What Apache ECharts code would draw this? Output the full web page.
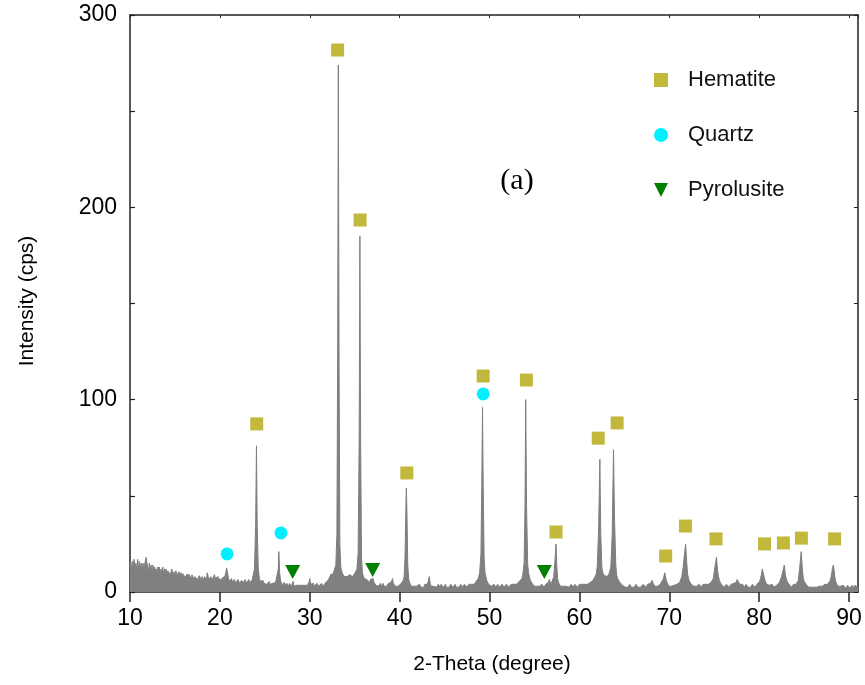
<!DOCTYPE html>
<html>
<head>
<meta charset="utf-8">
<script src="https://cdn.jsdelivr.net/npm/echarts@6/dist/echarts.min.js"></script>
<style>html,body{margin:0;padding:0;background:#fff}#c{width:865px;height:685px}</style>
</head>
<body>
<div id="c"></div>
<script>
// XRD pattern, [2-theta, intensity]
const pattern1 = [
[10.0,13],[10.05,16],[10.1,15],[10.15,11],[10.2,12],[10.25,16],[10.3,16],[10.35,12],[10.4,13],[10.45,17],
[10.5,15],[10.55,11],[10.6,12],[10.65,15],[10.7,16],[10.75,12],[10.8,14],[10.85,17],[10.9,15],[10.95,11],
[11.0,12],[11.05,16],[11.1,15],[11.15,12],[11.2,13],[11.25,15],[11.3,16],[11.35,11],[11.4,12],[11.45,15],
[11.5,14],[11.55,11],[11.6,13],[11.65,15],[11.7,16],[11.75,14],[11.8,18],[11.85,19],[11.9,17],[11.95,13],
[12.0,14],[12.05,11],[12.1,12],[12.15,15],[12.2,14],[12.25,10],[12.3,11],[12.35,14],[12.4,13],[12.45,10],
[12.5,12],[12.55,14],[12.6,14],[12.65,10],[12.7,11],[12.75,13],[12.8,13],[12.85,10],[12.9,12],[12.95,13],
[13.0,11],[13.05,9],[13.1,13],[13.15,11],[13.2,11],[13.25,13],[13.3,12],[13.35,9],[13.4,10],[13.45,12],
[13.5,12],[13.55,10],[13.6,11],[13.65,13],[13.7,12],[13.75,9],[13.8,10],[13.85,12],[13.9,11],[13.95,9],
[14.0,12],[14.1,10],[14.15,8.5],[14.2,11],[14.3,10],[14.35,12],[14.4,11],[14.5,9],[14.6,10],[14.65,12],
[14.7,11],[14.8,8.5],[14.9,10.5],[15.0,10],[15.05,8],[15.1,11],[15.2,9],[15.3,10],[15.35,8],[15.4,9],
[15.5,10.5],[15.6,8.5],[15.7,10],[15.8,8],[15.9,9.5],[16.0,10],[16.1,7.5],[16.2,8],[16.3,9],[16.4,8],
[16.5,10],[16.6,9],[16.7,7],[16.8,8],[16.9,9],[17.0,8],[17.1,6.5],[17.2,8],[17.3,9],[17.4,7.5],
[17.5,6.5],[17.6,7],[17.7,8.5],[17.8,9],[17.9,6.5],[18.0,8],[18.1,6],[18.2,7],[18.3,8],[18.4,7],
[18.5,6],[18.6,10],[18.7,8],[18.8,6.5],[18.9,7.5],[19.0,8],[19.1,6],[19.2,7],[19.3,6],[19.4,9],
[19.5,7],[19.6,6],[19.7,7.5],[19.8,8],[19.9,5.5],[20.0,7],[20.1,5.5],[20.2,6],[20.3,7.5],[20.4,6.5],
[20.55,8],[20.65,10],[20.75,12.5],[20.85,10],[20.95,7.5],[21.05,5.5],[21.15,6.5],[21.3,7],[21.4,5],[21.5,5],
[21.6,6.5],[21.7,6],[21.8,4.5],[21.9,5],[22.0,6.5],[22.1,6],[22.2,4.5],[22.3,5],[22.4,6],[22.5,7],
[22.6,5],[22.7,5],[22.8,6.5],[22.9,6],[23.0,4.5],[23.1,5],[23.2,6.5],[23.3,6],[23.4,5],[23.5,6],
[23.6,6.5],[23.7,7],[23.85,12],[23.98,35],[24.07,76],[24.15,35],[24.27,12],[24.4,7],[24.5,5.5],[24.6,5],
[24.7,6],[24.8,6],[24.9,4.5],[25.0,5],[25.1,5.5],[25.2,4],[25.3,3.5],[25.4,5],[25.5,5.5],[25.6,4],
[25.7,3.5],[25.8,5],[25.9,4.5],[26.0,4],[26.1,3.5],[26.2,5],[26.3,5],[26.4,6],[26.5,12],[26.56,21],
[26.65,10],[26.75,6],[26.85,5],[26.95,3.5],[27.05,4],[27.15,5],[27.25,4],[27.35,3],[27.45,4.5],[27.55,3.5],
[27.65,3],[27.75,4.5],[27.85,3.5],[27.95,3],[28.05,4],[28.15,5.5],[28.25,3],[28.35,4],[28.45,3],[28.55,3.5],
[28.65,4.5],[28.75,3],[28.85,3.5],[28.95,4.5],[29.05,3],[29.15,3.5],[29.25,4],[29.35,2.5],[29.45,3.5],[29.55,4.5],
[29.65,3],[29.75,3.5],[29.85,3],[29.95,5.5]
];
const pattern2 = [
[30.0,7],[30.1,4],[30.2,3],[30.3,3.5],[30.4,4.5],[30.5,3],[30.6,3.5],[30.7,3],[30.8,4.5],[30.9,3.5],
[31.0,3],[31.1,4],[31.2,3],[31.3,4.5],[31.4,3.5],[31.5,3],[31.6,4],[31.7,4.5],[31.8,4],[31.9,5.5],
[32.0,6],[32.1,7],[32.2,7.5],[32.3,9],[32.4,8.5],[32.5,10],[32.6,9.5],[32.7,11],[32.8,11.5],[32.9,14],
[33.02,30],[33.1,120],[33.18,274],[33.26,120],[33.35,25],[33.45,13],[33.55,11],[33.65,9.5],[33.75,10],[33.85,8],
[33.95,8.5],[34.05,7],[34.15,8],[34.25,7.5],[34.35,8.5],[34.45,9],[34.55,10],[34.65,9.5],[34.75,8],[34.85,8.5],
[34.95,9],[35.05,10],[35.15,10.5],[35.25,12],[35.38,20],[35.5,80],[35.58,185],[35.66,80],[35.76,18],[35.86,10],
[35.95,8.5],[36.05,7],[36.15,7.5],[36.25,6],[36.35,6.5],[36.45,7],[36.55,5.5],[36.65,5],[36.75,6.5],[36.85,5.5],
[36.95,6.5],[37.05,7],[37.15,5],[37.25,4.5],[37.35,3.5],[37.45,3],[37.55,4],[37.65,3],[37.75,3.5],[37.85,4.5],
[37.95,3],[38.05,3.5],[38.15,4.5],[38.25,3],[38.35,3.5],[38.45,4],[38.55,3],[38.65,3.5],[38.75,4.5],[38.85,3.5],
[38.95,4],[39.05,5],[39.15,6],[39.22,7],[39.3,4.5],[39.4,3.5],[39.5,3],[39.6,4],[39.7,3.5],[39.8,3],
[39.9,4],[40.0,3.5],[40.1,4],[40.2,4.5],[40.3,5],[40.4,6],[40.5,8],[40.6,18],[40.7,45],[40.75,54],
[40.82,40],[40.9,15],[41.0,7],[41.1,5],[41.2,4],[41.3,3],[41.4,3.5],[41.5,4],[41.6,3],[41.7,2.5],
[41.8,3.5],[41.9,3],[42.0,2.5],[42.1,3.5],[42.2,4],[42.3,3],[42.4,2.5],[42.5,3.5],[42.6,3],[42.7,2.5],
[42.8,4],[42.9,3],[43.0,3],[43.1,4],[43.2,5],[43.3,8],[43.4,4.5],[43.5,3],[43.6,3.5],[43.7,2.5],
[43.8,3],[43.9,4],[44.0,3.5],[44.1,2.5],[44.2,3],[44.3,4],[44.4,3],[44.5,2.5],[44.6,4],[44.7,3.5],
[44.8,3],[44.9,2.5],[45.0,3.5],[45.1,4],[45.2,2.5],[45.3,3],[45.4,3.5],[45.5,2.5],[45.6,3],[45.7,4],
[45.8,3],[45.9,2.5],[46.0,3.5],[46.1,3],[46.2,4],[46.3,2.5],[46.4,3],[46.5,3.5],[46.6,2.5],[46.7,3],
[46.8,4],[46.9,3],[47.0,2.5],[47.1,3.5],[47.2,4],[47.3,3],[47.4,3.5],[47.5,2.5],[47.6,3],[47.7,4],
[47.8,3.5],[47.9,3],[48.0,4],[48.1,3.5],[48.2,4.5],[48.3,4],[48.4,5],[48.5,5.5],[48.6,6],[48.75,7],
[48.9,10],[49.05,20],[49.15,60],[49.22,96],[49.3,55],[49.4,18],[49.5,10],[49.6,8],[49.7,6],[49.8,5],
[49.9,4]
];
const pattern3 = [
[50.0,3.5],[50.1,4],[50.2,3],[50.3,2.5],[50.4,3.5],[50.5,4],[50.6,3],[50.7,2.5],[50.8,3.5],[50.9,4],
[51.0,3],[51.1,2.5],[51.2,3.5],[51.3,3],[51.4,4],[51.5,3.5],[51.6,2.5],[51.7,3],[51.8,3.5],[51.9,4],
[52.0,3],[52.1,2.5],[52.2,3.5],[52.3,3],[52.4,4],[52.5,3],[52.6,3.5],[52.7,4],[52.8,3.5],[52.9,4.5],
[53.0,4],[53.1,5],[53.2,4.5],[53.3,5.5],[53.4,5],[53.5,6],[53.6,7],[53.7,9],[53.85,15],[53.95,45],
[54.03,100],[54.12,45],[54.25,14],[54.35,10],[54.45,7.5],[54.55,6],[54.65,5.5],[54.75,4.5],[54.85,4],[54.95,3],
[55.05,3.5],[55.15,4],[55.25,3],[55.35,2.5],[55.45,3.5],[55.55,3],[55.65,2.5],[55.75,3.5],[55.85,4],[55.95,3],
[56.05,2.5],[56.15,3.5],[56.25,4],[56.35,3],[56.45,4],[56.55,5],[56.65,6.5],[56.75,5.5],[56.85,4],[56.95,3.5],
[57.05,4.5],[57.15,8],[57.28,16],[57.4,25],[57.48,14],[57.58,7],[57.68,5],[57.8,4],[57.9,3],[58.0,3.5],
[58.1,4],[58.2,3],[58.3,2.5],[58.4,3.5],[58.5,3],[58.6,4],[58.7,3],[58.8,2.5],[58.9,3.5],[59.0,3],
[59.1,4],[59.2,3],[59.3,2.5],[59.4,3.5],[59.5,4],[59.6,3],[59.7,3.5],[59.8,2.5],[59.9,3.5],[60.0,4],
[60.1,3],[60.2,3.5],[60.3,4],[60.4,3.5],[60.5,4.5],[60.6,4],[60.7,3.5],[60.8,4.5],[60.9,4],[61.0,5],
[61.1,4.5],[61.2,5],[61.35,5.5],[61.5,6],[61.65,7],[61.8,8.5],[61.9,10],[62.0,14],[62.15,35],[62.28,69],
[62.38,30],[62.5,13],[62.6,10],[62.7,9],[62.8,8.5],[62.9,8],[63.0,9],[63.1,8],[63.2,8.5],[63.3,9.5],
[63.4,11],[63.5,13],[63.65,30],[63.8,74],[63.9,40],[64.05,14],[64.15,9],[64.25,7],[64.35,6],[64.5,5],
[64.6,4.5],[64.7,4],[64.8,3.5],[64.9,4],[65.0,3],[65.1,2.5],[65.2,3.5],[65.3,3],[65.4,2.5],[65.5,3.5],
[65.6,4],[65.7,3],[65.8,2.5],[65.9,3],[66.0,3.5],[66.1,2.5],[66.2,3],[66.3,4],[66.4,3],[66.5,2.5],
[66.6,3.5],[66.7,3],[66.8,2.5],[66.9,3.5],[67.0,3],[67.1,4],[67.2,3],[67.3,3.5],[67.4,2.5],[67.5,3.5],
[67.6,4],[67.7,3.5],[67.8,4],[67.9,4.5],[68.0,5],[68.1,6],[68.2,4.5],[68.3,3.5],[68.4,3],[68.5,3.5],
[68.6,4],[68.7,3],[68.8,3.5],[68.9,3],[69.0,4],[69.1,4.5],[69.2,5],[69.35,7],[69.5,10],[69.65,6.5],
[69.75,5],[69.85,4],[69.95,3]
];
const pattern4 = [
[70.05,3.5],[70.15,2.5],[70.25,3],[70.35,4],[70.45,3],[70.55,3.5],[70.65,4],[70.75,3],[70.85,4],[70.95,4.5],
[71.05,4],[71.15,5],[71.25,5.5],[71.4,8],[71.55,13],[71.7,20],[71.82,25],[71.95,15],[72.05,9],[72.15,7],
[72.25,5.5],[72.35,5],[72.45,4],[72.55,3.5],[72.65,4],[72.75,3],[72.85,2.5],[72.95,3.5],[73.05,3],[73.15,2.5],
[73.25,3.5],[73.35,4],[73.45,3],[73.55,2.5],[73.65,3],[73.75,4],[73.85,3],[73.95,3.5],[74.05,4],[74.15,3],
[74.25,3.5],[74.35,4],[74.45,4.5],[74.55,4],[74.65,5],[74.75,5.5],[74.9,7],[75.08,13],[75.25,18],[75.38,11],
[75.48,8],[75.58,6],[75.68,5],[75.78,4],[75.88,3.5],[75.98,3],[76.08,2.5],[76.18,3.5],[76.28,3],[76.38,4],
[76.48,3],[76.58,2.5],[76.68,3.5],[76.78,3],[76.88,4],[76.98,3.5],[77.08,4],[77.18,4.5],[77.3,4],[77.45,5],
[77.55,6.5],[77.65,7.5],[77.75,6],[77.85,4],[77.95,3.5],[78.05,3],[78.15,4],[78.25,3],[78.35,2.5],[78.45,3.5],
[78.55,4],[78.65,3],[78.75,2.5],[78.85,3.5],[78.95,3],[79.05,2.5],[79.15,3.5],[79.25,4],[79.35,3],[79.45,3.5],
[79.55,2.5],[79.65,3],[79.75,4],[79.85,4.5],[79.95,5],[80.05,5.5],[80.15,7],[80.25,9],[80.35,12],[80.45,10],
[80.55,8],[80.65,6],[80.75,5],[80.85,4],[80.95,3.5],[81.05,3],[81.15,3.5],[81.25,2.5],[81.35,3],[81.45,4],
[81.55,3],[81.65,2.5],[81.75,3.5],[81.85,3],[81.95,3.5],[82.05,4],[82.15,4.5],[82.25,5],[82.35,6],[82.5,8],
[82.65,11],[82.8,14],[82.92,9],[83.02,7],[83.12,5.5],[83.22,4.5],[83.32,4],[83.42,3],[83.52,3.5],[83.62,2.5],
[83.72,3],[83.82,4],[83.92,3],[84.02,3.5],[84.12,4],[84.22,4.5],[84.35,6],[84.5,12],[84.68,21],[84.82,11],
[84.92,7],[85.02,5.5],[85.12,4.5],[85.22,4],[85.32,3],[85.42,3.5],[85.52,2.5],[85.62,3],[85.72,3.5],[85.82,2.5],
[85.92,3],[86.02,3.5],[86.12,2.5],[86.22,3],[86.32,2],[86.42,2.5],[86.52,3.5],[86.62,2.5],[86.72,3],[86.82,2.5],
[86.92,3.5],[87.02,3],[87.12,2.5],[87.22,3.5],[87.32,4],[87.42,3],[87.52,3.5],[87.62,4],[87.72,4.5],[87.82,5],
[87.92,6],[88.05,9],[88.15,12],[88.25,14],[88.35,11],[88.45,7],[88.55,5],[88.65,4],[88.75,3],[88.85,3.5],
[88.95,2.5],[89.05,3],[89.15,2],[89.25,2.5],[89.35,3.5],[89.45,2.5],[89.55,3],[89.65,2],[89.75,2.5],[89.85,3.5],
[89.95,2.5],[90.05,2],[90.15,3],[90.25,2.5],[90.35,3.5],[90.45,2],[90.55,2.5],[90.65,3.5],[90.75,2.5],[90.85,3],
[91.0,2.5]
];

// Phase markers [2-theta, intensity]
const hematite = [[24.1,87.4],[33.1,281.8],[35.6,193.4],[40.8,61.9],[49.3,112.3],[54.1,110.2],[57.4,31.2],
  [62.1,80],[64.2,87.9],[69.6,18.7],[71.8,34.3],[75.2,27.6],[80.6,25],[82.7,25.5],[84.7,28],[88.4,27.6]];
const quartz = [[20.8,19.8],[26.8,30.7],[49.3,103]];
const pyrolusite = [[28.1,10.4],[37.0,11.4],[56.1,10.4]];

const xTicks = {min: 10, max: 91, step: 10};
const yTicks = {min: 0, max: 300, step: 50, labelStep: 100};

const pattern = pattern1.concat(pattern2, pattern3, pattern4);

const chart = echarts.init(document.getElementById('c'), null, {renderer: 'canvas'});
const axisCol = '#222';
const FONT = '"Liberation Sans", Arial, sans-serif';
const downTriangle = 'path://M0,0 L10,0 L5,10 Z';

chart.setOption({
  animation: false,
  backgroundColor: '#fff',
  grid: {left: 130, right: 7, top: 15, bottom: 93, containLabel: false},
  xAxis: [{
    type: 'value', position: 'bottom', min: xTicks.min, max: xTicks.max, interval: xTicks.step,
    axisLine: {show: true, onZero: false, lineStyle: {color: axisCol, width: 1.5}},
    axisTick: {show: true, inside: false, length: 10, lineStyle: {color: axisCol, width: 1.5}},
    axisLabel: {show: true, margin: 15, color: '#000', fontFamily: FONT, fontSize: 23, showMaxLabel: false},
    splitLine: {show: false}
  }, {
    type: 'value', position: 'top', min: xTicks.min, max: xTicks.max, interval: xTicks.step,
    axisLine: {show: true, onZero: false, lineStyle: {color: axisCol, width: 1.5}},
    axisTick: {show: true, inside: true, length: 3, lineStyle: {color: axisCol, width: 1}},
    axisLabel: {show: false}, splitLine: {show: false}
  }],
  yAxis: [{
    type: 'value', position: 'left', min: yTicks.min, max: yTicks.max, interval: yTicks.step,
    axisLine: {show: true, onZero: false, lineStyle: {color: axisCol, width: 1.5}},
    axisTick: {show: true, inside: true, length: 5, lineStyle: {color: axisCol, width: 1.2}},
    axisLabel: {show: true, margin: 13, color: '#000', fontFamily: FONT, fontSize: 23,
      formatter: v => (v % yTicks.labelStep === 0 ? String(v) : '')},
    splitLine: {show: false}
  }, {
    type: 'value', position: 'right', min: yTicks.min, max: yTicks.max, interval: yTicks.step,
    axisLine: {show: true, onZero: false, lineStyle: {color: axisCol, width: 1.5}},
    axisTick: {show: true, inside: true, length: 4, lineStyle: {color: axisCol, width: 1}},
    axisLabel: {show: false}, splitLine: {show: false}
  }],
  legend: {
    orient: 'vertical', left: 649, top: 64, itemGap: 33, itemWidth: 14, itemHeight: 14,
    data: ['Hematite', 'Quartz', 'Pyrolusite'],
    textStyle: {fontFamily: FONT, fontSize: 22, color: '#111', padding: [0, 0, 0, 15]}
  },
  graphic: [
    {type: 'text', x: 492, y: 664, style: {text: '2-Theta (degree)', font: '21px ' + FONT, fill: '#000', align: 'center', verticalAlign: 'middle'}},
    {type: 'text', x: 27, y: 301, rotation: Math.PI / 2, style: {text: 'Intensity (cps)', font: '21px ' + FONT, fill: '#000', align: 'center', verticalAlign: 'middle'}},
    {type: 'text', x: 517, y: 181, style: {text: '(a)', font: '30px "Liberation Serif", "Times New Roman", serif', fill: '#000', align: 'center', verticalAlign: 'middle'}}
  ],
  series: [
    {
      name: 'pattern', type: 'line', data: pattern, showSymbol: false, symbol: 'none',
      lineStyle: {color: '#7f7f7f', width: 1}, areaStyle: {color: '#808080', opacity: 1, origin: 'start'},
      itemStyle: {color: '#808080'}, z: 1, silent: true
    },
    {name: 'Hematite', type: 'scatter', data: hematite, symbol: 'rect', symbolSize: 13,
      itemStyle: {color: '#c2b93c', opacity: 1}, z: 3},
    {name: 'Quartz', type: 'scatter', data: quartz, symbol: 'circle', symbolSize: 13,
      itemStyle: {color: '#00f0ff', opacity: 1}, z: 3},
    {name: 'Pyrolusite', type: 'scatter', data: pyrolusite, symbol: downTriangle, symbolSize: [15, 14],
      itemStyle: {color: '#008000', opacity: 1}, z: 3}
  ]
});
</script>
</body>
</html>
